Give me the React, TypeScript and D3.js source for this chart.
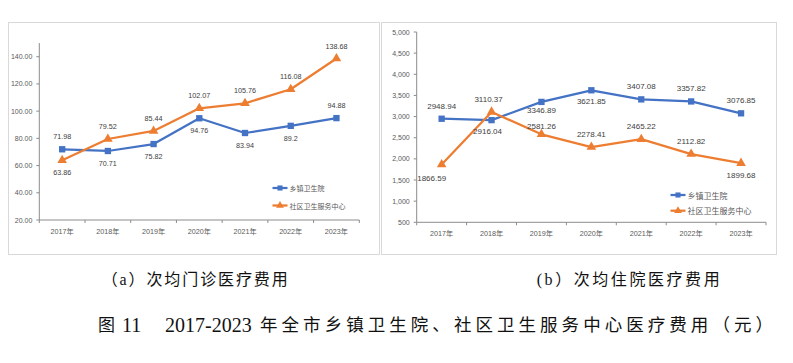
import * as d3 from 'd3';

const years = ['2017年', '2018年', '2019年', '2020年', '2021年', '2022年', '2023年'];
const seriesNames = ['乡镇卫生院', '社区卫生服务中心'];

// (a) 次均门诊医疗费用
const outpatientTownship = [71.98, 70.71, 75.82, 94.76, 83.94, 89.2, 94.88];
const outpatientCommunity = [63.86, 79.52, 85.44, 102.07, 105.76, 116.08, 138.68];
const outpatientTicks = [20, 40, 60, 80, 100, 120, 140];

// (b) 次均住院医疗费用
const inpatientTownship = [2948.94, 2916.04, 3346.89, 3621.85, 3407.08, 3357.82, 3076.85];
const inpatientCommunity = [1866.59, 3110.37, 2581.26, 2278.41, 2465.22, 2112.82, 1899.68];
const inpatientTicks = [500, 1000, 1500, 2000, 2500, 3000, 3500, 4000, 4500, 5000];

const BLUE = '#4472C4';
const ORANGE = '#ED7D31';
const AXIS = '#8c8c8c';
const TEXT = '#595959';
const SANS = '"Liberation Sans", Arial, "Noto Sans CJK SC", sans-serif';
const CJK = '"Noto Sans CJK SC", sans-serif';

interface PanelProps {
  box: { x: number; y: number; w: number; h: number };
  plot: { left: number; right: number; top: number; bottom: number };
  domain: [number, number];
  ticks: number[];
  tickFormat: (v: number) => string;
  series: number[][];
  labelDy: number[][]; // label offset from the point (negative = above)
  labelDx: number[][];
  labelSize: number;
  legend: { x: number; y: number; gap: number; size: number };
}

const Panel = ({ box, plot, domain, ticks, tickFormat, series, labelDy, labelDx, labelSize, legend }: PanelProps) => {
  const x = d3.scaleBand<string>().domain(years).range([plot.left, plot.right]);
  const y = d3.scaleLinear().domain(domain).range([plot.bottom, plot.top]);
  const cx = (i: number) => (x(years[i]) ?? 0) + x.bandwidth() / 2;

  const line = d3.line<number>()
    .x((_, i) => cx(i))
    .y(d => y(d));

  const square = d3.symbol().type(d3.symbolSquare).size(40)();
  const triangle = d3.symbol().type(d3.symbolTriangle).size(40)();
  const colors = [BLUE, ORANGE];
  const marks = [square, triangle];

  const boundaries = d3.range(years.length + 1).map(i => plot.left + i * x.step());

  return (
    <g>
      <rect x={box.x + 0.5} y={box.y + 0.5} width={box.w} height={box.h} fill="#fff" stroke="#d9d9d9" />

      {/* y axis */}
      <line x1={plot.left} x2={plot.left} y1={plot.top} y2={plot.bottom} stroke={AXIS} />
      {ticks.map(t => (
        <g key={t}>
          <line x1={plot.left - 3} x2={plot.left} y1={y(t)} y2={y(t)} stroke={AXIS} />
          <text x={plot.left - 7} y={y(t)} dominantBaseline="central" textAnchor="end"
            fontSize={7} fill={TEXT} fontFamily={SANS}>{tickFormat(t)}</text>
        </g>
      ))}

      {/* x axis */}
      <line x1={plot.left} x2={plot.right} y1={plot.bottom} y2={plot.bottom} stroke={AXIS} />
      {boundaries.map((b, i) => (
        <line key={i} x1={b} x2={b} y1={plot.bottom} y2={plot.bottom + 3} stroke={AXIS} />
      ))}
      {years.map((yr, i) => (
        <text key={yr} x={cx(i)} y={plot.bottom + 11.5} dominantBaseline="central" textAnchor="middle"
          fontSize={7.2} fill={TEXT} fontFamily={SANS}>{yr}</text>
      ))}

      {/* series */}
      {series.map((s, si) => (
        <g key={si}>
          <path d={line(s) ?? ''} fill="none" stroke={colors[si]} strokeWidth={2.25} strokeLinejoin="round" />
          {s.map((v, i) => (
            <path key={i} d={marks[si] ?? ''} transform={`translate(${cx(i)},${y(v)})`} fill={colors[si]} />
          ))}
        </g>
      ))}

      {/* data labels */}
      {series.map((s, si) => s.map((v, i) => (
        <text key={`${si}-${i}`} x={cx(i) + labelDx[si][i]} y={y(v) + labelDy[si][i]}
          dominantBaseline="central" textAnchor="middle" fontSize={labelSize} fill="#404040" fontFamily={SANS}>
          {String(v)}
        </text>
      )))}

      {/* legend */}
      {seriesNames.map((name, si) => {
        const ly = legend.y + si * legend.gap;
        return (
          <g key={name}>
            <line x1={legend.x} x2={legend.x + 15} y1={ly} y2={ly} stroke={colors[si]} strokeWidth={2.25} />
            <path d={d3.symbol().type(si === 0 ? d3.symbolSquare : d3.symbolTriangle).size(26)() ?? ''}
              transform={`translate(${legend.x + 7.5},${ly})`} fill={colors[si]} />
            <text x={legend.x + 17} y={ly} dominantBaseline="central" fontSize={legend.size}
              fill={TEXT} fontFamily={CJK}>{name}</text>
          </g>
        );
      })}
    </g>
  );
};

const zeros = years.map(() => 0);
const A = -12.5; // above
const B = 12.5; // below

export default function App() {
  return (
    <svg width={793} height={363} style={{ position: 'absolute', left: 0, top: 0 }}>
      <rect width={793} height={363} fill="#fff" />

      <Panel
        box={{ x: 8, y: 22, w: 371, h: 232 }}
        plot={{ left: 39.3, right: 359.3, top: 43.1, bottom: 220 }}
        domain={[20, 150]}
        ticks={outpatientTicks}
        tickFormat={d3.format('.2f')}
        series={[outpatientTownship, outpatientCommunity]}
        labelDy={[
          [A, B, B, B, B, B, A],
          [B, A, A, A, A, A, A],
        ]}
        labelDx={[zeros, zeros]}
        labelSize={7.2}
        legend={{ x: 272.5, y: 188, gap: 17.5, size: 7 }}
      />

      <Panel
        box={{ x: 381, y: 22, w: 395, h: 232 }}
        plot={{ left: 416.7, right: 766, top: 32, bottom: 222.3 }}
        domain={[500, 5000]}
        ticks={inpatientTicks}
        tickFormat={d3.format(',')}
        series={[inpatientTownship, inpatientCommunity]}
        labelDy={[
          [A, 11, 8.5, 11, A, A, A],
          [14, A, -7.5, A, A, A, B],
        ]}
        labelDx={[[0, -4, 0, 0, 0, 0, 0], [-10, -3, 0, 0, 0, 0, 0]]}
        labelSize={8}
        legend={{ x: 670.5, y: 195, gap: 15.7, size: 8 }}
      />

      {/* captions */}
      <text x={101.7} y={279} dominantBaseline="central" fontSize={16} fill="#111"
        fontFamily={`"Liberation Serif", ${CJK}`} textLength={186} lengthAdjust="spacing">（a）次均门诊医疗费用</text>
      <text x={536.7} y={279} dominantBaseline="central" fontSize={16} fill="#111"
        fontFamily={`"Liberation Serif", ${CJK}`} textLength={183} lengthAdjust="spacing">(b）次均住院医疗费用</text>

      {/* figure title */}
      <text y={325} dominantBaseline="central" fill="#111" fontFamily={`"Liberation Serif", ${CJK}`}>
        <tspan x={98} fontSize={17}>图</tspan>
        <tspan x={122} fontSize={20}>11</tspan>
        <tspan x={165} fontSize={20}>2017-2023</tspan>
        <tspan x={260} fontSize={17.5} textLength={513} lengthAdjust="spacing">年全市乡镇卫生院、社区卫生服务中心医疗费用（元）</tspan>
      </text>
    </svg>
  );
}
